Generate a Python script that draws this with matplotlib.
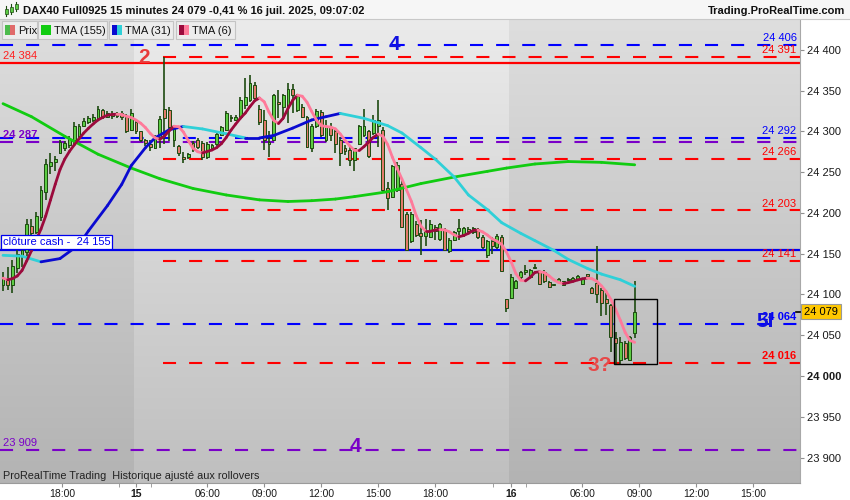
import numpy as np
import pandas as pd
import matplotlib
matplotlib.use("Agg")
import matplotlib.pyplot as plt
from matplotlib.collections import LineCollection
from matplotlib.patches import Rectangle
from matplotlib.colors import to_rgb
import matplotlib.transforms as mtransforms

plt.rcParams["font.family"] = ["Liberation Sans", "DejaVu Sans"]
plt.rcParams["lines.scale_dashes"] = False

# DAX40 Full0925, 15 minute bars, 14 juil. 14:45 -> 16 juil. 09:00
opens = [24112, 24118, 24112, 24133, 24148, 24152, 24184, 24176, 24195, 24226,
         24258, 24262, 24274, 24279, 24283, 24290, 24294, 24306, 24311, 24314,
         24316, 24326, 24318, 24321, 24319, 24322, 24318, 24302, 24311, 24300,
         24289, 24285, 24280, 24293, 24327, 24326, 24290, 24282, 24268, 24268,
         24286, 24289, 24286, 24268, 24280, 24284, 24295, 24302, 24318, 24314,
         24318, 24332, 24338, 24357, 24328, 24314, 24285, 24289, 24336, 24330,
         24330, 24352, 24326, 24330, 24318, 24279, 24306, 24324, 24289, 24305,
         24300, 24289, 24280, 24277, 24265, 24285, 24296, 24300, 24298, 24306,
         24302, 24230, 24220, 24228, 24236, 24199, 24165, 24187, 24175, 24172,
         24171, 24183, 24168, 24179, 24153, 24167, 24178, 24173, 24180, 24176,
         24180, 24170, 24148, 24166, 24158, 24170, 24094, 24096, 24108, 24121,
         24127, 24122, 24132, 24127, 24128, 24115, 24111, 24115, 24112, 24119,
         24118, 24119, 24113, 24124, 24108, 24114, 24106, 24094, 24087, 24046,
         24020, 24041, 24020, 24053]
highs = [24128, 24134, 24142, 24156, 24160, 24192, 24192, 24201, 24233, 24266,
         24274, 24270, 24290, 24288, 24294, 24311, 24309, 24317, 24319, 24321,
         24331, 24327, 24325, 24325, 24324, 24325, 24321, 24327, 24313, 24301,
         24291, 24290, 24296, 24319, 24391, 24330, 24307, 24283, 24275, 24274,
         24288, 24292, 24288, 24287, 24285, 24300, 24307, 24325, 24320, 24320,
         24342, 24365, 24369, 24360, 24332, 24326, 24300, 24346, 24351, 24346,
         24359, 24358, 24346, 24333, 24319, 24309, 24327, 24326, 24314, 24310,
         24302, 24293, 24283, 24281, 24279, 24308, 24328, 24302, 24320, 24338,
         24305, 24238, 24259, 24262, 24240, 24201, 24201, 24190, 24191, 24192,
         24191, 24185, 24188, 24181, 24169, 24178, 24192, 24183, 24183, 24183,
         24182, 24173, 24167, 24171, 24174, 24173, 24095, 24125, 24118, 24129,
         24136, 24131, 24137, 24129, 24130, 24116, 24112, 24120, 24117, 24120,
         24121, 24124, 24120, 24125, 24109, 24159, 24108, 24106, 24088, 24054,
         24048, 24043, 24049, 24116]
lows = [24104, 24106, 24102, 24126, 24134, 24146, 24166, 24174, 24190, 24216,
        24248, 24252, 24272, 24276, 24279, 24285, 24292, 24305, 24309, 24311,
        24313, 24315, 24316, 24315, 24316, 24314, 24298, 24300, 24297, 24287,
        24282, 24276, 24278, 24280, 24285, 24288, 24281, 24270, 24261, 24266,
        24275, 24278, 24265, 24266, 24278, 24282, 24294, 24300, 24312, 24313,
        24316, 24328, 24336, 24338, 24308, 24277, 24269, 24288, 24317, 24314,
        24310, 24322, 24324, 24316, 24279, 24275, 24304, 24293, 24287, 24288,
        24273, 24257, 24271, 24257, 24251, 24283, 24293, 24267, 24296, 24281,
        24226, 24204, 24218, 24226, 24181, 24153, 24163, 24170, 24149, 24159,
        24169, 24167, 24166, 24153, 24151, 24165, 24167, 24171, 24175, 24174,
        24168, 24156, 24145, 24150, 24156, 24128, 24078, 24094, 24107, 24119,
        24124, 24121, 24131, 24112, 24114, 24108, 24110, 24114, 24111, 24117,
        24117, 24118, 24112, 24122, 24101, 24090, 24073, 24075, 24030, 24013,
        24015, 24020, 24018, 24046]
closes = [24120, 24112, 24135, 24150, 24155, 24186, 24175, 24196, 24228, 24260,
          24262, 24266, 24287, 24286, 24291, 24306, 24306, 24313, 24316, 24318,
          24327, 24318, 24322, 24319, 24322, 24318, 24301, 24323, 24300, 24290,
          24286, 24281, 24293, 24315, 24316, 24305, 24305, 24273, 24266, 24272,
          24277, 24281, 24268, 24285, 24283, 24297, 24305, 24322, 24316, 24318,
          24338, 24342, 24359, 24341, 24312, 24289, 24287, 24344, 24334, 24344,
          24352, 24345, 24343, 24318, 24281, 24306, 24325, 24296, 24306, 24295,
          24285, 24273, 24276, 24265, 24279, 24306, 24306, 24270, 24314, 24314,
          24228, 24218, 24257, 24259, 24183, 24155, 24199, 24173, 24172, 24178,
          24187, 24178, 24186, 24155, 24167, 24176, 24181, 24181, 24178, 24181,
          24171, 24158, 24165, 24160, 24172, 24129, 24084, 24122, 24117, 24128,
          24130, 24130, 24134, 24113, 24116, 24109, 24111, 24119, 24116, 24118,
          24120, 24123, 24119, 24123, 24102, 24100, 24090, 24090, 24048, 24040,
          24042, 24022, 24048, 24079]

# TMA(31) and TMA(155) (bar index, value)
tma31_bar = [0, 4, 8, 12, 16, 18, 22, 25, 27, 30, 32, 35, 38, 42, 47, 51, 54, 57,
             61, 65, 68, 71, 76, 81, 84, 88, 91, 95, 98, 102, 105, 109, 112, 116,
             119, 123, 126, 130, 133]
tma31_val = [24148, 24147, 24140, 24144, 24161, 24178, 24209, 24235, 24258, 24280,
             24292, 24302, 24306, 24303, 24297, 24292, 24292, 24295, 24304, 24314,
             24318, 24322, 24316, 24307, 24298, 24280, 24266, 24244, 24222, 24204,
             24188, 24175, 24166, 24154, 24143, 24132, 24125, 24118, 24110]
tma155_bar = [0, 6, 13, 20, 27, 33, 40, 47, 54, 60, 65, 70, 74, 81, 88, 95, 102,
              106, 112, 119, 126, 133]
tma155_val = [24334, 24318, 24294, 24272, 24255, 24242, 24230, 24222, 24216, 24214,
              24215, 24217, 24220, 24226, 24236, 24244, 24251, 24255, 24260, 24263,
              24262, 24259]

# drawn levels
red_dash_levels = [24391, 24266, 24203, 24141, 24016]
blue_dash_levels = [24406, 24292, 24064]
purple_dash_levels = [24287, 23909]
red_solid_level = 24384
cash_close = 24155
last_price = 24079
red_dash_start = 34  # the spike bar

session_breaks = [27.5, 106.5]
xtick_pos = [12.5, 28, 43, 55, 67, 79, 91, 107, 122, 134, 146, 158]
xtick_lab = ["18:00", "15", "06:00", "09:00", "12:00", "15:00", "18:00", "16",
             "06:00", "09:00", "12:00", "15:00"]
xminor_pos = [24.4, 31.2, 103.2, 110.1]


def fmt(v):
    return f"{v:,}".replace(",", " ")


W, H = 850, 500
fig = plt.figure(figsize=(W / 100, H / 100), dpi=100)
fig.patch.set_facecolor("white")
ax = fig.add_axes([0, 17 / H, 800 / W, 464 / H])

x_lo, x_hi = -0.63, 167.8
y_lo, y_hi = 23868.8, 24437.8

# session backgrounds (vertical gradient)
def shade(x0, x1, top, bottom):
    k = np.linspace(0, 1, 256)[:, None]
    img = (np.array(to_rgb(top)) * (1 - k) + np.array(to_rgb(bottom)) * k)[:, None, :]
    ax.imshow(img, extent=(x0, x1, y_lo, y_hi), aspect="auto", origin="upper",
              zorder=0, interpolation="bilinear")

edges = [x_lo] + session_breaks + [x_hi]
for j in range(len(edges) - 1):
    if j % 2 == 0:
        shade(edges[j], edges[j + 1], "#dedede", "#b3b3b3")
    else:
        shade(edges[j], edges[j + 1], "#ebebeb", "#bfbfbf")

dash = (9.4, 9.4)
for v in red_dash_levels:
    ax.plot([red_dash_start - 0.3, x_hi], [v, v], color="#ff0000", lw=1.5, dashes=dash, zorder=2)
for v in blue_dash_levels:
    ax.plot([x_lo, x_hi], [v, v], color="#0000ff", lw=1.5, dashes=dash, zorder=2)
for v in purple_dash_levels:
    ax.plot([x_lo, x_hi], [v, v], color="#7a00c8", lw=1.5, dashes=dash, zorder=2)
ax.axhline(red_solid_level, color="#ff0000", lw=1.6, zorder=2)
ax.axhline(cash_close, color="#0000ee", lw=1.6, zorder=2)

# candles
o = np.array(opens); hi = np.array(highs); lo = np.array(lows); c = np.array(closes)
xb = np.arange(len(o))
up = c >= o
wick = "#1d4a10"
ax.vlines(xb, lo, hi, color=wick, lw=1.2, zorder=3)
ax.bar(xb, np.maximum(np.abs(c - o), 1.5), bottom=np.minimum(o, c), width=0.62,
       color=np.where(up, "#5ccc44", "#e27a6a"), edgecolor=wick, linewidth=0.7, zorder=4)

# moving averages, coloured by slope
def slope_line(xs, ys, col_up, col_dn, lw=2.0):
    pts = np.column_stack([xs, ys])
    segs = np.stack([pts[:-1], pts[1:]], axis=1)
    cols = [col_up if b >= a else col_dn for a, b in zip(ys[:-1], ys[1:])]
    ax.add_collection(LineCollection(segs, colors=cols, linewidths=lw,
                                     capstyle="round", zorder=5))

slope_line(np.array(tma155_bar), np.array(tma155_val), "#11cc11", "#11cc11")
slope_line(np.array(tma31_bar), np.array(tma31_val), "#0a0ad0", "#2fd0d8")
tma6 = pd.Series(closes).rolling(3, min_periods=1).mean().rolling(4, min_periods=1).mean()
slope_line(xb.astype(float), tma6.values, "#9b0a3c", "#ff7a9a")

# value labels on the right side of the plot
right_labels = [(24406, "#0000ff", "normal"), (24391, "#ff0000", "normal"),
                (24292, "#0000ff", "normal"), (24266, "#ff0000", "normal"),
                (24203, "#ff0000", "normal"), (24141, "#ff0000", "normal"),
                (24064, "#0000ff", "bold"), (24016, "#ff0000", "bold")]
for v, col, wt in right_labels:
    ax.annotate(fmt(v), xy=(x_hi, v), xytext=(-2.5, 5), textcoords="offset points",
                ha="right", va="center", fontsize=8, color=col, fontweight=wt, zorder=6)

left_labels = [(red_solid_level, "#ff2020", "normal"), (24287, "#7a00c8", "bold"),
               (23909, "#7a00c8", "normal")]
for v, col, wt in left_labels:
    ax.annotate(fmt(v), xy=(x_lo, v), xytext=(2, 5), textcoords="offset points",
                ha="left", va="center", fontsize=8, color=col, fontweight=wt, zorder=6)

ax.annotate(f"clôture cash -  {fmt(cash_close)}", xy=(x_lo, cash_close), xytext=(2, 5.2),
            textcoords="offset points", ha="left", va="center", fontsize=8, color="#0000ee",
            zorder=6, bbox=dict(boxstyle="square,pad=0.18", fc="white", ec="#0000ee", lw=0.9))

# hand drawn marks
big = dict(fontsize=15, fontweight="bold", ha="center", va="center", zorder=6)
ax.text(29.7, 24391, "2", color="#e83a3a", **big)
ax.text(82.5, 24407, "4", color="#1010e0", **big)
ax.text(74.3, 23913, "4", color="#7a00c8", **big)
ax.text(160.4, 24067, "5I", color="#1010e0", **big)
ax.text(125.7, 24013, "3?", color="#e84848", **big)
ax.add_patch(Rectangle((128.6, 24014.7), 9.1, 79.7, fill=False, ec="black", lw=1.0, zorder=6))

ax.text(3 / 800, 7 / 464, "ProRealTime Trading  Historique ajusté aux rollovers",
        transform=ax.transAxes, fontsize=7.8, color="#222222", va="center", ha="left", zorder=6)

# axes
ax.set_xlim(x_lo, x_hi)
ax.set_ylim(y_lo, y_hi)
for s in ["left", "top"]:
    ax.spines[s].set_visible(False)
ax.spines["bottom"].set_color("#9a9a9a")
ax.spines["right"].set_color("#a8a8a8")
ax.yaxis.tick_right()
yt = list(range(23900, 24401, 50))
ax.set_yticks(yt)
ax.set_yticklabels([fmt(v) for v in yt])
for lab in ax.get_yticklabels():
    if lab.get_text() == "24 000":
        lab.set_fontweight("bold")
ax.tick_params(axis="y", length=3, color="#909090", labelsize=8, pad=2, labelcolor="#1a1a1a")
ax.set_xticks(xtick_pos)
ax.set_xticklabels(xtick_lab)
ax.set_xticks(xminor_pos, minor=True)
for lab in ax.get_xticklabels():
    if lab.get_text() in ("15", "16"):
        lab.set_fontweight("bold")
        lab.set_fontsize(8.5)
ax.tick_params(axis="x", which="both", length=3, color="#909090", labelsize=7.5, pad=1.5,
               labelcolor="#1a1a1a")

# current price marker on the axis
tr = mtransforms.blended_transform_factory(ax.transAxes, ax.transData)
ax.plot([0.995, 1.004], [last_price, last_price], color="black", lw=1.2, transform=tr,
        clip_on=False, zorder=7)
ax.text(1.0 + 4 / 800, last_price, fmt(last_price), transform=tr, ha="left", va="center",
        fontsize=8, color="black", zorder=8,
        bbox=dict(boxstyle="square,pad=0.25", fc="#ffc800", ec="#999999", lw=0.8))

# title bar
def fpx(x, y):
    return x / W, 1 - y / H

fig.add_artist(Rectangle(fpx(0, 19), 1, 19 / H, transform=fig.transFigure,
                         fc="#f6f6f6", ec="none", zorder=1))
fig.add_artist(plt.Line2D([0, 1], [1 - 19 / H] * 2, transform=fig.transFigure,
                          color="#c8c8c8", lw=0.8, zorder=2))
for cx, y0, y1, b0, b1 in [(6, 6, 16, 9, 14), (11, 4, 14, 7, 12), (16, 2, 11, 4, 9)]:
    fig.add_artist(plt.Line2D([cx / W] * 2, [1 - y1 / H, 1 - y0 / H], transform=fig.transFigure,
                              color="#1d4a10", lw=0.8, zorder=3))
    fig.add_artist(Rectangle(fpx(cx - 1.5, b1), 3 / W, (b1 - b0) / H, transform=fig.transFigure,
                             fc="#5ccc44", ec="#1d4a10", lw=0.5, zorder=4))
fig.text(23 / W, 1 - 10.5 / H, "DAX40 Full0925 15 minutes 24 079 -0,41 % 16 juil. 2025, 09:07:02",
         fontsize=8, fontweight="bold", va="center", ha="left", color="#111111", zorder=5)
fig.text(845 / W, 1 - 10.5 / H, "Trading.ProRealTime.com", fontsize=8, fontweight="bold",
         va="center", ha="right", color="#111111", zorder=5)

# indicator legend boxes
legend = [("Prix", 2, 37, ("#4cbb4c", "#e06a6a")),
          ("TMA (155)", 38, 107, ("#11cc11", "#11cc11")),
          ("TMA (31)", 109, 173, ("#0a0ad0", "#2fd0d8")),
          ("TMA (6)", 176, 235, ("#9b0a3c", "#ff7a9a"))]
for name, x0, x1, (c1, c2) in legend:
    fig.add_artist(Rectangle(fpx(x0, 39), (x1 - x0) / W, 18 / H, transform=fig.transFigure,
                             fc="#ececec", ec="#c4c4c4", lw=0.8, zorder=6))
    fig.add_artist(Rectangle(fpx(x0 + 3, 35), 5 / W, 10 / H, transform=fig.transFigure,
                             fc=c1, ec="none", zorder=7))
    fig.add_artist(Rectangle(fpx(x0 + 8, 35), 5 / W, 10 / H, transform=fig.transFigure,
                             fc=c2, ec="none", zorder=7))
    fig.text((x0 + 16) / W, 1 - 30.5 / H, name, fontsize=8, va="center", ha="left",
             color="#111111", zorder=8)

fig.savefig("out.png", dpi=100)
